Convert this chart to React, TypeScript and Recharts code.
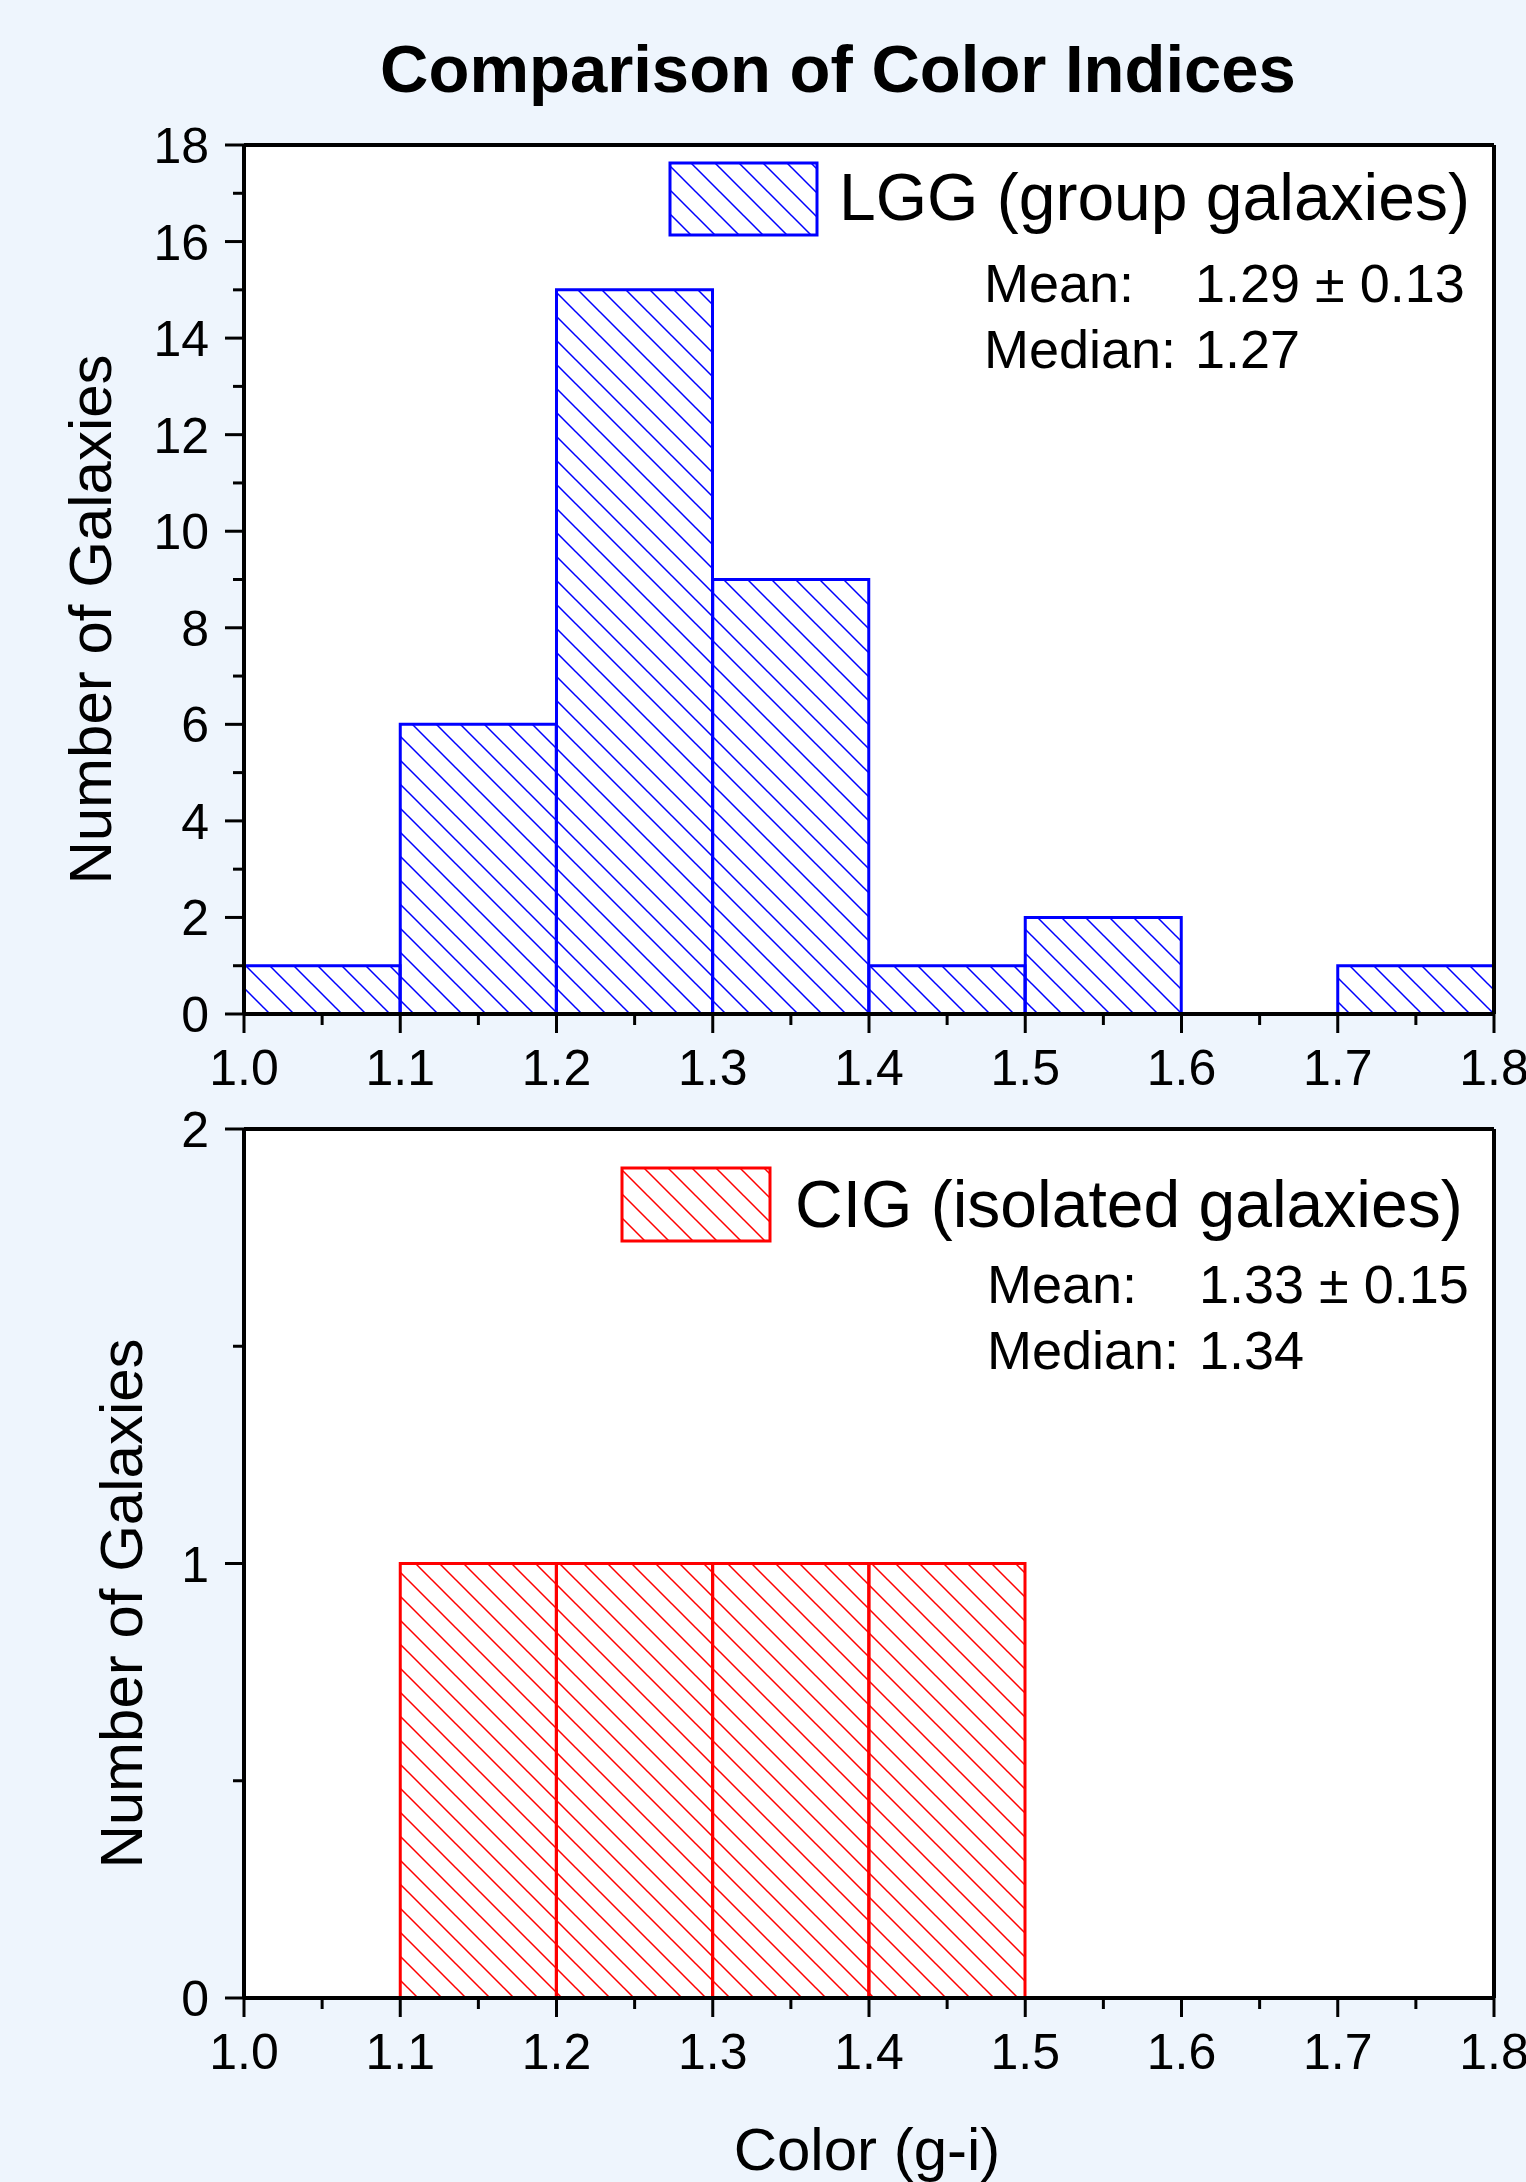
import React from 'react';
import { BarChart, Bar, XAxis, YAxis, CartesianGrid, Legend, ReferenceLine } from 'recharts';

// ---------- data ----------
const binCenters = [1.05, 1.15, 1.25, 1.35, 1.45, 1.55, 1.65, 1.75];
const lggCounts = [1, 6, 15, 9, 1, 2, 0, 1];
const cigCounts = [0, 1, 1, 1, 1, 0, 0, 0];

const xTicks = [1.0, 1.05, 1.1, 1.15, 1.2, 1.25, 1.3, 1.35, 1.4, 1.45, 1.5, 1.55, 1.6, 1.65, 1.7, 1.75, 1.8];
const xMajorTicks = [1.0, 1.1, 1.2, 1.3, 1.4, 1.5, 1.6, 1.7, 1.8];
const topYTicks = [0, 1, 2, 3, 4, 5, 6, 7, 8, 9, 10, 11, 12, 13, 14, 15, 16, 17, 18];
const topYMajorTicks = [0, 2, 4, 6, 8, 10, 12, 14, 16, 18];
const bottomYTicks = [0, 0.5, 1, 1.5, 2];
const bottomYMajorTicks = [0, 1, 2];

const chartTitle = 'Comparison of Color Indices';
const yTitle = 'Number of Galaxies';
const xTitle = 'Color (g-i)';
const lggLabel = 'LGG (group galaxies)';
const lggMean = '1.29 ± 0.13';
const lggMedian = '1.27';
const cigLabel = 'CIG (isolated galaxies)';
const cigMean = '1.33 ± 0.15';
const cigMedian = '1.34';

const lggData = binCenters.map((c, i) => ({ center: c, count: lggCounts[i] }));
const cigData = binCenters.map((c, i) => ({ center: c, count: cigCounts[i] }));

// ---------- styles ----------
const FONT = '"Liberation Sans", Arial, Helvetica, sans-serif';
const BG = '#EEF5FD';
const BLUE = '#0000ff';
const RED = '#ff0000';
const TICK_SIZE = 19;
const TICK_MARGIN = 16;
const MINOR_SIZE = 11;
const AXIS_W = 4;
const TICK_W = 3;

const isIn = (list: number[], v: number) => list.some((m) => Math.abs(m - v) < 1e-6);

const makeXTick = (majors: number[]) => (props: any) => {
  const { x, y, payload } = props;
  const v = payload.value as number;
  const major = isIn(majors, v);
  const axisY = y - TICK_MARGIN - TICK_SIZE;
  return (
    <g>
      <line x1={x} x2={x} y1={axisY} y2={axisY + (major ? TICK_SIZE : MINOR_SIZE)} stroke="#000" strokeWidth={TICK_W} />
      {major && (
        <text x={x} y={y + 36} textAnchor="middle" fontSize={50} fill="#000" fontFamily={FONT}>
          {v.toFixed(1)}
        </text>
      )}
    </g>
  );
};

const makeYTick = (majors: number[]) => (props: any) => {
  const { x, y, payload } = props;
  const v = payload.value as number;
  const major = isIn(majors, v);
  const axisX = x + TICK_MARGIN + TICK_SIZE;
  return (
    <g>
      <line x1={axisX - (major ? TICK_SIZE : MINOR_SIZE)} x2={axisX} y1={y} y2={y} stroke="#000" strokeWidth={TICK_W} />
      {major && (
        <text x={x} y={y + 18} textAnchor="end" fontSize={50} fill="#000" fontFamily={FONT}>
          {String(v)}
        </text>
      )}
    </g>
  );
};

const YTitle = (props: any) => {
  const vb = props.viewBox || {};
  const { dx } = props;
  const cx = vb.x + dx;
  const cy = vb.y + vb.height / 2 + 40;
  return (
    <text
      x={cx}
      y={cy}
      transform={`rotate(-90 ${cx} ${cy})`}
      textAnchor="middle"
      dominantBaseline="central"
      fontSize={60}
      fill="#000"
      fontFamily={FONT}
    >
      {yTitle}
    </text>
  );
};

const XTitle = (props: any) => {
  const vb = props.viewBox || {};
  return (
    <text x={vb.x + vb.width / 2 - 2} y={vb.y + 172} textAnchor="middle" fontSize={60} fill="#000" fontFamily={FONT}>
      {xTitle}
    </text>
  );
};

const Hatch = ({ id, color }: { id: string; color: string }) => (
  <pattern id={id} patternUnits="userSpaceOnUse" width={24} height={24}>
    <path d="M-6,-6 L30,30 M-6,18 L6,30 M18,-6 L30,6" stroke={color} strokeWidth={1.5} fill="none" />
  </pattern>
);

type StatsProps = {
  color: string;
  patId: string;
  label: string;
  mean: string;
  median: string;
  boxX: number;
  boxY: number;
  boxW: number;
  boxH: number;
  labelX: number;
  labelY: number;
  statX: number;
  valX: number;
  meanY: number;
  medianY: number;
};

const StatsLegend = (p: StatsProps) => (
  <svg width={1526} height={420} style={{ overflow: 'visible', display: 'block' }}>
    <defs>
      <Hatch id={p.patId} color={p.color} />
    </defs>
    <rect x={p.boxX} y={p.boxY} width={p.boxW} height={p.boxH} fill="#fff" />
    <rect x={p.boxX} y={p.boxY} width={p.boxW} height={p.boxH} fill={`url(#${p.patId})`} stroke={p.color} strokeWidth={3} />
    <text x={p.labelX} y={p.labelY} fontSize={66} fill="#000" fontFamily={FONT}>
      {p.label}
    </text>
    <text x={p.statX} y={p.meanY} fontSize={54} fill="#000" fontFamily={FONT}>
      Mean:
    </text>
    <text x={p.valX} y={p.meanY} fontSize={54} fill="#000" fontFamily={FONT}>
      {p.mean}
    </text>
    <text x={p.statX} y={p.medianY} fontSize={54} fill="#000" fontFamily={FONT}>
      Median:
    </text>
    <text x={p.valX} y={p.medianY} fontSize={54} fill="#000" fontFamily={FONT}>
      {p.median}
    </text>
  </svg>
);

const legendWrap: React.CSSProperties = {
  position: 'absolute',
  left: 0,
  top: 0,
  width: 1526,
  height: 420,
  pointerEvents: 'none',
};

export default function App() {
  return (
    <div
      style={{
        position: 'absolute',
        left: 0,
        top: 0,
        width: 1526,
        height: 2182,
        background: BG,
        fontFamily: FONT,
        overflow: 'hidden',
      }}
    >
      <svg width={1526} height={120} style={{ position: 'absolute', left: 0, top: 0 }}>
        <text x={838} y={92} textAnchor="middle" fontSize={67} fontWeight="bold" fill="#000" fontFamily={FONT}>
          {chartTitle}
        </text>
      </svg>

      {/* Top panel: LGG */}
      <div style={{ position: 'absolute', left: 0, top: 0 }}>
        <BarChart
          width={1526}
          height={1110}
          data={lggData}
          margin={{ top: 145, right: 32, bottom: 0, left: 144 }}
          barCategoryGap={0}
          barGap={0}
        >
          <defs>
            <Hatch id="hatchBlue" color={BLUE} />
          </defs>
          <CartesianGrid fill="#fff" horizontal={false} vertical={false} />
          <Bar dataKey="count" fill="url(#hatchBlue)" stroke={BLUE} strokeWidth={3} isAnimationActive={false} />
          <XAxis
            dataKey="center"
            type="number"
            domain={[1.0, 1.8]}
            allowDataOverflow
            ticks={xTicks}
            interval={0}
            tick={makeXTick(xMajorTicks)}
            tickLine={false}
            tickSize={TICK_SIZE}
            tickMargin={TICK_MARGIN}
            axisLine={{ stroke: '#000', strokeWidth: AXIS_W }}
            height={96}
          />
          <YAxis
            type="number"
            domain={[0, 18]}
            allowDataOverflow
            ticks={topYTicks}
            interval={0}
            tick={makeYTick(topYMajorTicks)}
            tickLine={false}
            tickSize={TICK_SIZE}
            tickMargin={TICK_MARGIN}
            axisLine={{ stroke: '#000', strokeWidth: AXIS_W }}
            width={100}
            label={<YTitle dx={-54} />}
          />
          <ReferenceLine y={18} stroke="#000" strokeWidth={AXIS_W} ifOverflow="extendDomain" />
          <ReferenceLine x={1.8} stroke="#000" strokeWidth={AXIS_W} ifOverflow="extendDomain" />
          <Legend
            layout="horizontal"
            verticalAlign="middle"
            align="center"
            wrapperStyle={legendWrap}
            content={() => (
              <StatsLegend
                color={BLUE}
                patId="legBlue"
                label={lggLabel}
                mean={lggMean}
                median={lggMedian}
                boxX={670}
                boxY={163}
                boxW={147}
                boxH={72}
                labelX={839}
                labelY={220}
                statX={984}
                valX={1195}
                meanY={302}
                medianY={368}
              />
            )}
          />
        </BarChart>
      </div>

      {/* Bottom panel: CIG */}
      <div style={{ position: 'absolute', left: 0, top: 1100 }}>
        <BarChart
          width={1526}
          height={1082}
          data={cigData}
          margin={{ top: 29, right: 32, bottom: 0, left: 144 }}
          barCategoryGap={0}
          barGap={0}
        >
          <defs>
            <Hatch id="hatchRed" color={RED} />
          </defs>
          <CartesianGrid fill="#fff" horizontal={false} vertical={false} />
          <Bar dataKey="count" fill="url(#hatchRed)" stroke={RED} strokeWidth={3} isAnimationActive={false} />
          <XAxis
            dataKey="center"
            type="number"
            domain={[1.0, 1.8]}
            allowDataOverflow
            ticks={xTicks}
            interval={0}
            tick={makeXTick(xMajorTicks)}
            tickLine={false}
            tickSize={TICK_SIZE}
            tickMargin={TICK_MARGIN}
            axisLine={{ stroke: '#000', strokeWidth: AXIS_W }}
            height={184}
            label={<XTitle />}
          />
          <YAxis
            type="number"
            domain={[0, 2]}
            allowDataOverflow
            ticks={bottomYTicks}
            interval={0}
            tick={makeYTick(bottomYMajorTicks)}
            tickLine={false}
            tickSize={TICK_SIZE}
            tickMargin={TICK_MARGIN}
            axisLine={{ stroke: '#000', strokeWidth: AXIS_W }}
            width={100}
            label={<YTitle dx={-23} />}
          />
          <ReferenceLine y={2} stroke="#000" strokeWidth={AXIS_W} ifOverflow="extendDomain" />
          <ReferenceLine x={1.8} stroke="#000" strokeWidth={AXIS_W} ifOverflow="extendDomain" />
          <Legend
            layout="horizontal"
            verticalAlign="middle"
            align="center"
            wrapperStyle={legendWrap}
            content={() => (
              <StatsLegend
                color={RED}
                patId="legRed"
                label={cigLabel}
                mean={cigMean}
                median={cigMedian}
                boxX={622}
                boxY={68}
                boxW={148}
                boxH={73}
                labelX={795}
                labelY={127}
                statX={987}
                valX={1199}
                meanY={203}
                medianY={269}
              />
            )}
          />
        </BarChart>
      </div>
    </div>
  );
}
